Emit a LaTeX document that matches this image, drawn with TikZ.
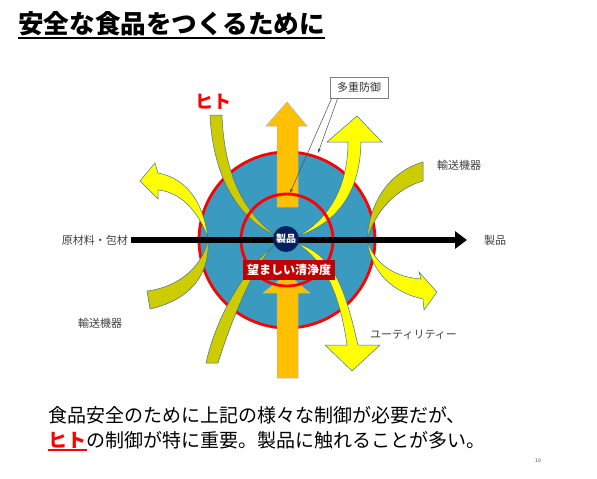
\documentclass[tikz,border=0pt]{standalone}
\usepackage{fontspec}
\setmainfont{Noto Sans CJK JP}
\usepackage{xcolor}
\usetikzlibrary{arrows.meta}

\definecolor{zoneblue}{RGB}{58,154,192}
\definecolor{flowyellow}{RGB}{255,255,0}
\definecolor{flowolive}{RGB}{204,204,0}
\definecolor{flowedge}{RGB}{65,113,156}
\definecolor{pushorange}{RGB}{255,192,0}
\definecolor{coreblue}{RGB}{0,32,96}
\definecolor{boxred}{RGB}{192,0,0}
\definecolor{labelgray}{RGB}{64,64,64}

\begin{document}
\begin{tikzpicture}[x=1pt, y=-1pt, every node/.style={inner sep=0pt},
  label/.style={font=\fontsize{11}{13}\selectfont, text=labelgray},
  front/.style={fill=flowyellow, draw=flowedge, line width=0.5pt},
  back/.style={fill=flowolive, draw=flowedge, line width=0.5pt},
  push/.style={fill=pushorange, draw=flowedge!50, line width=0.5pt},
  ring/.style={circle, draw=red, line width=2.8pt},
  callout/.style={draw=black!70, line width=0.5pt, -{Latex[length=4pt,width=3pt]}}]
  \useasboundingbox[fill=white] (0,0) rectangle (597,479);

  % title
  \node[anchor=west, font=\fontsize{25.6}{30}\selectfont\bfseries] (title) at (18,24) {安全な食品をつくるために};
  \draw[line width=1.6pt] ([yshift=-1.5pt]title.south west) -- ([yshift=-1.5pt]title.south east);

  % zones
  \node[ring, fill=zoneblue, minimum size=176pt] (zone) at (287,240) {};

  % orange flows
  \filldraw[push] (277,207) -- (277,126) -- (266,126) -- (287,102) -- (307,126) -- (298,126) -- (298,207) -- cycle;
  \filldraw[push] (277,378) -- (277,293) -- (263,293) -- (287,274) -- (310,293) -- (298,293) -- (298,378) -- cycle;

  % curved flows (top, bottom, left, right)
  \filldraw[back] (210,115) .. controls (213,180) and (240,220) .. (278,237) .. controls (245,215) and (224,175) .. (222,115) -- cycle;
  \filldraw[front] (296,237) .. controls (340,222) and (360,190) .. (361,142) -- (382,142) -- (357,116) -- (327,142) -- (348,142) .. controls (348,185) and (330,220) .. (296,237) -- cycle;
  \filldraw[back] (206,363) .. controls (215,320) and (245,265) .. (278,243) .. controls (262,252) and (238,300) .. (218,363) -- cycle;
  \filldraw[front] (296,243) .. controls (335,255) and (345,290) .. (358,345) -- (380,345) -- (352,371) -- (325,345) -- (347,345) .. controls (340,295) and (325,260) .. (296,243) -- cycle;
  \filldraw[front] (208,238) .. controls (203,200) and (185,178) .. (158,173) -- (155,163) -- (140,181) -- (158,199) -- (158,190) .. controls (180,192) and (198,210) .. (208,238) -- cycle;
  \filldraw[back] (208,240) .. controls (203,265) and (180,287) .. (147,291) -- (150,309) .. controls (190,300) and (210,275) .. (208,240) -- cycle;
  \filldraw[back] (367,240) .. controls (370,195) and (395,170) .. (423,162) -- (423,181) .. controls (398,188) and (375,210) .. (367,240) -- cycle;
  \filldraw[front] (367,240) .. controls (375,265) and (395,277) .. (421,279) -- (419,272) -- (437,292) -- (424,310) -- (423,299) .. controls (395,293) and (372,275) .. (367,240) -- cycle;

  \node[ring, minimum size=92pt] (inner) at (287,240) {};

  % main line
  \node[label, anchor=east] (src) at (128,240) {原材料・包材};
  \node[label, anchor=west] (goods) at (484,240) {製品};
  \draw[line width=6pt, -{Triangle[length=12pt,width=17pt]}] ([xshift=3pt]src.east) -- ([xshift=-17pt]goods.west);

  \node[circle, fill=coreblue, minimum size=26pt, text=white, font=\fontsize{10}{12}\selectfont\bfseries] (core) at (286,239) {製品};
  \node[fill=boxred, text=white, font=\fontsize{12}{14}\selectfont\bfseries, minimum width=92pt, minimum height=20pt] (clean) at (289,270) {望ましい清浄度};

  % labels
  \node[font=\fontsize{18}{20}\selectfont\bfseries, text=red] (human) at (213,102) {ヒト};
  \node[label, anchor=west] (carrierup) at (437,165) {輸送機器};
  \node[label, anchor=west] (carrierdown) at (78,323) {輸送機器};
  \node[label, anchor=west] (utility) at (370,335) {ユーティリティー};

  \node[label, text=black!80, draw=gray, fill=white, line width=0.6pt, minimum width=58pt, minimum height=21pt] (defense) at (359,87.5) {多重防御};
  \coordinate (innertop) at (290,193);
  \coordinate (outertop) at (318,153);
  \draw[callout] ([xshift=2pt]defense.south west) -- (innertop);
  \draw[callout] ([xshift=8pt]defense.south west) -- (outertop);

  % note
  \node[anchor=west, font=\fontsize{19}{23}\selectfont] (note1) at (48,415) {食品安全のために上記の様々な制御が必要だが、};
  \node[anchor=west, font=\fontsize{19}{23}\selectfont] (note2) at (48,440) {\textcolor{red}{\bfseries ヒト}の制御が特に重要。製品に触れることが多い。};
  \draw[red, line width=1.2pt] ([yshift=-1pt]note2.south west) -- ++(39,0);
  \node[font=\fontsize{5}{6}\selectfont, text=labelgray] (page) at (538,461) {19};
\end{tikzpicture}
\end{document}
